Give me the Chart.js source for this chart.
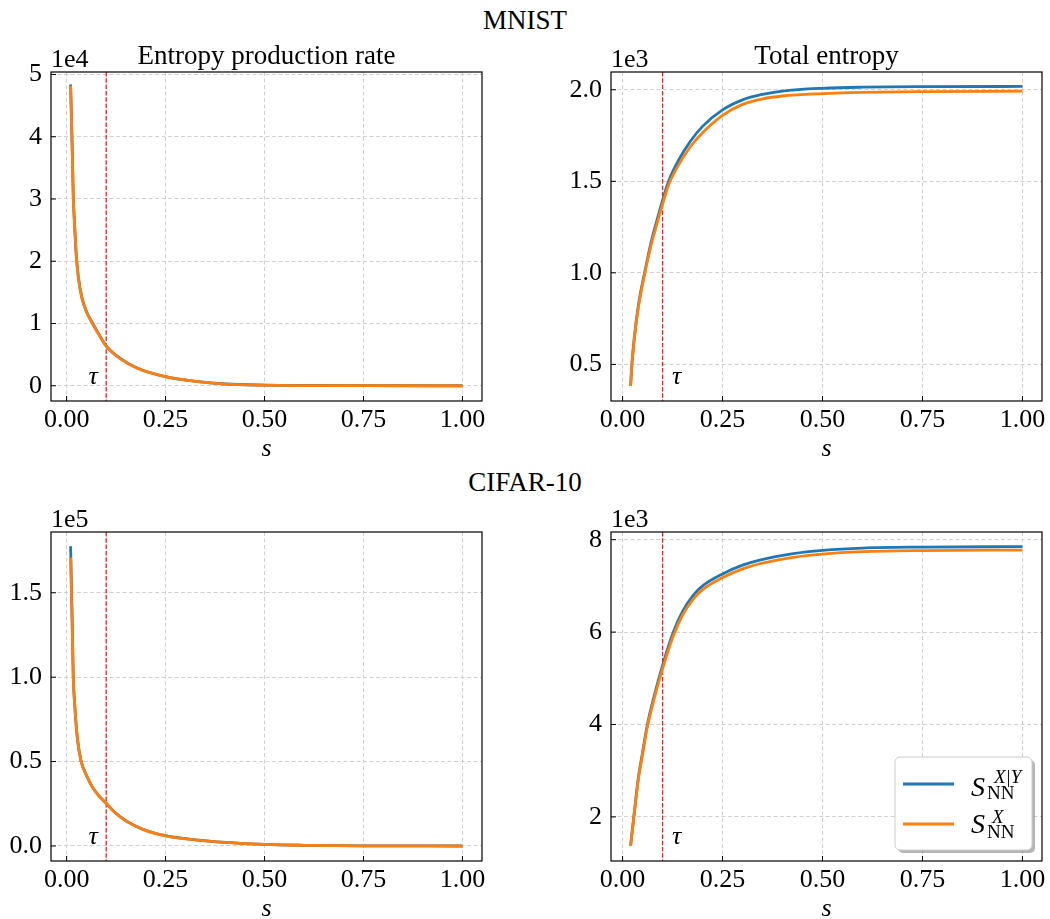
<!DOCTYPE html>
<html>
<head>
<meta charset="utf-8">
<script src="https://cdn.jsdelivr.net/npm/chart.js@4.4.1/dist/chart.umd.min.js"></script>
<style>
  body { margin: 0; background: #fff; }
  #fig { position: relative; width: 1050px; height: 919px; overflow: hidden; background: #fff;
         font-family: 'Liberation Serif', 'Times New Roman', serif; }
  #fig canvas { position: absolute; left: 0; top: 0; }
  .suptitle { position: absolute; left: 0; width: 1050px; text-align: center; font-size: 27px; line-height: 27px; color: #000; }
</style>
</head>
<body>
<div id="fig">
  <div class="suptitle" style="top: 7px;">MNIST</div>
  <div class="suptitle" style="top: 469px;">CIFAR-10</div>
  <canvas id="c-mnist-rate" width="1050" height="960"></canvas>
  <canvas id="c-mnist-total" width="1050" height="960"></canvas>
  <canvas id="c-cifar-rate" width="1050" height="960"></canvas>
  <canvas id="c-cifar-total" width="1050" height="960"></canvas>
</div>
<script>
// ---- data ----
const tau = 0.1;
const seriesNames = ['S_NN^{X|Y}', 'S_NN^X'];

// MNIST, entropy production rate (x 1e4)
const sMnistRate = [0.01, 0.0143, 0.0167, 0.0202, 0.0244, 0.0294, 0.0377, 0.0497, 0.0607, 0.0777, 0.0987,
  0.1277, 0.1567, 0.1907, 0.2497, 0.3257, 0.4017, 0.5, 0.6, 0.75, 1.0];
const mnistRateXY = [4.84, 3.77, 3.07, 2.58, 2.1, 1.76, 1.44, 1.2, 1.06, 0.87, 0.65,
  0.475, 0.355, 0.253, 0.148, 0.071, 0.028, 0.01, 0.004, 0.001, 0.0];
const mnistRateX = [4.82, 3.75, 3.05, 2.56, 2.08, 1.75, 1.43, 1.19, 1.05, 0.86, 0.647,
  0.47, 0.35, 0.25, 0.146, 0.07, 0.027, 0.009, 0.003, 0.001, 0.0];

// MNIST, total entropy (x 1e3)
const sMnistTotal = [0.02, 0.0233, 0.03, 0.04, 0.055, 0.07, 0.085, 0.1, 0.115, 0.14, 0.17,
  0.2, 0.25, 0.3, 0.35, 0.4, 0.5, 0.6, 0.75, 1.0];
const mnistTotalXY = [0.382, 0.502, 0.66, 0.83, 1.0, 1.155, 1.28, 1.395, 1.5, 1.615, 1.72,
  1.8, 1.89, 1.945, 1.975, 1.993, 2.008, 2.014, 2.017, 2.018];
const mnistTotalX = [0.382, 0.5, 0.655, 0.82, 0.99, 1.14, 1.26, 1.375, 1.48, 1.59, 1.69,
  1.765, 1.86, 1.92, 1.95, 1.966, 1.979, 1.986, 1.99, 1.992];

// CIFAR-10, entropy production rate (x 1e5)
const sCifarRate = [0.01, 0.0143, 0.0167, 0.0207, 0.0267, 0.0357, 0.0517, 0.0647, 0.0817, 0.0997,
  0.1197, 0.1487, 0.1907, 0.2497, 0.3257, 0.4017, 0.5, 0.6, 0.75, 1.0];
const cifarRateXY = [1.776, 1.3, 1.01, 0.83, 0.65, 0.511, 0.411, 0.351, 0.297, 0.254,
  0.204, 0.151, 0.101, 0.061, 0.036, 0.021, 0.009, 0.004, 0.001, 0.0];
const cifarRateX = [1.709, 1.28, 1.0, 0.825, 0.647, 0.509, 0.41, 0.35, 0.296, 0.253,
  0.203, 0.15, 0.1, 0.06, 0.036, 0.021, 0.009, 0.004, 0.001, 0.0];

// CIFAR-10, total entropy (x 1e3)
const sCifarTotal = [0.02, 0.028, 0.039, 0.05, 0.062, 0.077, 0.1, 0.127, 0.15, 0.177,
  0.2, 0.25, 0.3, 0.343, 0.427, 0.5, 0.6, 0.75, 1.0];
const cifarTotalXY = [1.38, 2.0, 2.82, 3.4, 4.0, 4.55, 5.28, 6.0, 6.45, 6.8,
  7.0, 7.26, 7.45, 7.56, 7.7, 7.77, 7.82, 7.84, 7.85];
const cifarTotalX = [1.37, 1.98, 2.79, 3.36, 3.95, 4.49, 5.21, 5.92, 6.37, 6.72,
  6.92, 7.18, 7.37, 7.48, 7.62, 7.69, 7.74, 7.765, 7.776];

// ticks
const xTicks = [0, 0.25, 0.5, 0.75, 1.0];
const xTickLabels = ['0.00', '0.25', '0.50', '0.75', '1.00'];
const mnistRateTicks = [0, 1, 2, 3, 4, 5];
const mnistRateTickLabels = ['0', '1', '2', '3', '4', '5'];
const mnistTotalTicks = [0.5, 1.0, 1.5, 2.0];
const mnistTotalTickLabels = ['0.5', '1.0', '1.5', '2.0'];
const cifarRateTicks = [0, 0.5, 1.0, 1.5];
const cifarRateTickLabels = ['0.0', '0.5', '1.0', '1.5'];
const cifarTotalTicks = [2, 4, 6, 8];
const cifarTotalTickLabels = ['2', '4', '6', '8'];

const FONT = "'Liberation Serif', 'Times New Roman', serif";
const BLUE = '#1f77b4';
const ORANGE = '#ff7f0e';
const CANVAS_W = 1050, CANVAS_H = 960;
const X_AXIS_H = 64;

function toPoints(xs, ys) {
  return xs.map((x, i) => ({ x: x, y: ys[i] }));
}

// draws frame, inward ticks, tau marker, titles and the legend
function decorPlugin(d) {
  return {
    id: 'decor',
    beforeDatasetsDraw(chart) {
      const { ctx, chartArea: a, scales } = chart;
      const px = scales.x.getPixelForValue(tau);
      ctx.save();
      ctx.strokeStyle = 'rgba(255,0,0,0.9)';
      ctx.lineWidth = 1.3;
      ctx.setLineDash([4.5, 1.8]);
      ctx.beginPath();
      ctx.moveTo(px, a.top);
      ctx.lineTo(px, a.bottom);
      ctx.stroke();
      ctx.restore();
    },
    afterDraw(chart) {
      const { ctx, chartArea: a, scales } = chart;
      const xs = scales.x, ys = scales.y;
      ctx.save();
      ctx.setLineDash([]);
      ctx.strokeStyle = '#000';
      ctx.lineWidth = 1.2;
      ctx.strokeRect(a.left, a.top, a.right - a.left, a.bottom - a.top);

      // inward ticks
      ctx.lineWidth = 1;
      ctx.beginPath();
      xs.ticks.forEach(t => {
        const p = xs.getPixelForValue(t.value);
        ctx.moveTo(p, a.bottom); ctx.lineTo(p, a.bottom - 5);
      });
      ys.ticks.forEach(t => {
        const p = ys.getPixelForValue(t.value);
        ctx.moveTo(a.left, p); ctx.lineTo(a.left + 5, p);
      });
      ctx.stroke();

      ctx.fillStyle = '#000';
      ctx.textBaseline = 'alphabetic';
      if (d.title) {
        ctx.font = '27px ' + FONT;
        ctx.textAlign = 'center';
        ctx.fillText(d.title, (a.left + a.right) / 2, a.top - 8);
      }
      ctx.font = '26px ' + FONT;
      ctx.textAlign = 'left';
      ctx.fillText(d.offset, a.left, a.top - 5);

      // tau label
      const px = xs.getPixelForValue(tau);
      ctx.font = 'italic 26px ' + FONT;
      ctx.textAlign = 'center';
      ctx.fillText('\u03c4', px + d.tauDx, a.bottom - 17);

      if (d.legend) drawLegend(chart);
      ctx.restore();
    }
  };
}

function drawLegend(chart) {
  const { ctx, chartArea: a } = chart;
  const w = 137, h = 93;
  const bx = a.right - 10 - w, by = a.bottom - 11 - h;
  const roundRect = (x, y) => {
    ctx.beginPath();
    ctx.roundRect(x, y, w, h, 5);
  };
  // shadow
  ctx.fillStyle = 'rgba(120,120,120,0.55)';
  roundRect(bx + 3, by + 3); ctx.fill();
  ctx.fillStyle = '#fff';
  ctx.strokeStyle = '#cccccc';
  ctx.lineWidth = 1;
  roundRect(bx, by); ctx.fill(); ctx.stroke();

  const rows = [
    { color: BLUE, lineY: by + 27, base: by + 39, sup: 'X|Y', supX: 99, supBase: by + 26, subBase: by + 42 },
    { color: ORANGE, lineY: by + 67, base: by + 76, sup: 'X', supX: 97, supBase: by + 66, subBase: by + 81 }
  ];
  rows.forEach(r => {
    ctx.strokeStyle = r.color;
    ctx.lineWidth = 2.8;
    ctx.beginPath();
    ctx.moveTo(bx + 8, r.lineY);
    ctx.lineTo(bx + 59, r.lineY);
    ctx.stroke();
    ctx.fillStyle = '#000';
    ctx.textAlign = 'left';
    ctx.font = 'italic 28px ' + FONT;
    ctx.fillText('S', bx + 76, r.base);
    ctx.font = 'italic 19px ' + FONT;
    ctx.fillText(r.sup, bx + r.supX, r.supBase);
    ctx.font = '19px ' + FONT;
    ctx.fillText('NN', bx + 92, r.subBase);
  });
}

function buildChart(canvasId, cfg) {
  const ctx = document.getElementById(canvasId).getContext('2d');
  const area = cfg.area;
  return new Chart(ctx, {
    type: 'line',
    data: {
      datasets: [
        {
          label: seriesNames[0],
          data: toPoints(cfg.s, cfg.blue),
          borderColor: BLUE,
          borderWidth: 2.8,
          pointRadius: 0,
          cubicInterpolationMode: 'monotone',
          order: 1
        },
        {
          label: seriesNames[1],
          data: toPoints(cfg.s, cfg.orange),
          borderColor: ORANGE,
          borderWidth: 2.8,
          pointRadius: 0,
          cubicInterpolationMode: 'monotone',
          order: 0
        }
      ]
    },
    options: {
      responsive: false,
      animation: false,
      devicePixelRatio: 1,
      layout: {
        padding: {
          left: area.left - 50,
          top: area.top,
          right: CANVAS_W - area.right,
          bottom: CANVAS_H - area.bottom - X_AXIS_H
        }
      },
      plugins: {
        legend: { display: false },
        tooltip: { enabled: false },
        title: { display: false }
      },
      scales: {
        x: {
          type: 'linear',
          min: cfg.xMin,
          max: cfg.xMax,
          afterBuildTicks: axis => { axis.ticks = xTicks.map(v => ({ value: v })); },
          afterFit: axis => { axis.height = X_AXIS_H; },
          ticks: {
            autoSkip: false,
            maxRotation: 0,
            padding: 4,
            color: '#000',
            font: { family: FONT, size: 26 },
            callback: (v, i) => xTickLabels[i]
          },
          grid: { color: '#d0d0d0', lineWidth: 1, drawTicks: false },
          border: { display: false, dash: [4, 2.5] },
          title: {
            display: true,
            text: 's',
            color: '#000',
            font: { family: FONT, size: 26, style: 'italic' },
            padding: { top: 0, bottom: 0 }
          }
        },
        y: {
          type: 'linear',
          min: cfg.yMin,
          max: cfg.yMax,
          afterBuildTicks: axis => { axis.ticks = cfg.yTicks.map(v => ({ value: v })); },
          afterFit: axis => { axis.width = 50; },
          ticks: {
            autoSkip: false,
            padding: 9,
            color: '#000',
            font: { family: FONT, size: 26 },
            callback: (v, i) => cfg.yTickLabels[i]
          },
          grid: { color: '#d0d0d0', lineWidth: 1, drawTicks: false },
          border: { display: false, dash: [4, 2.5] }
        }
      }
    },
    plugins: [decorPlugin(cfg.deco)]
  });
}

buildChart('c-mnist-rate', {
  area: { left: 51, top: 72, right: 482, bottom: 401 },
  s: sMnistRate, blue: mnistRateXY, orange: mnistRateX,
  xMin: -0.0395, xMax: 1.0495, yMin: -0.245, yMax: 5.04,
  yTicks: mnistRateTicks, yTickLabels: mnistRateTickLabels,
  deco: { title: 'Entropy production rate', offset: '1e4', tauDx: -13, legend: false }
});

buildChart('c-mnist-total', {
  area: { left: 611, top: 72, right: 1042, bottom: 401 },
  s: sMnistTotal, blue: mnistTotalXY, orange: mnistTotalX,
  xMin: -0.029, xMax: 1.049, yMin: 0.30, yMax: 2.097,
  yTicks: mnistTotalTicks, yTickLabels: mnistTotalTickLabels,
  deco: { title: 'Total entropy', offset: '1e3', tauDx: 14, legend: false }
});

buildChart('c-cifar-rate', {
  area: { left: 51, top: 532, right: 482, bottom: 861 },
  s: sCifarRate, blue: cifarRateXY, orange: cifarRateX,
  xMin: -0.0395, xMax: 1.0495, yMin: -0.089, yMax: 1.86,
  yTicks: cifarRateTicks, yTickLabels: cifarRateTickLabels,
  deco: { title: '', offset: '1e5', tauDx: -13, legend: false }
});

buildChart('c-cifar-total', {
  area: { left: 611, top: 532, right: 1042, bottom: 861 },
  s: sCifarTotal, blue: cifarTotalXY, orange: cifarTotalX,
  xMin: -0.029, xMax: 1.049, yMin: 1.045, yMax: 8.167,
  yTicks: cifarTotalTicks, yTickLabels: cifarTotalTickLabels,
  deco: { title: '', offset: '1e3', tauDx: 14, legend: true }
});
</script>
</body>
</html>
